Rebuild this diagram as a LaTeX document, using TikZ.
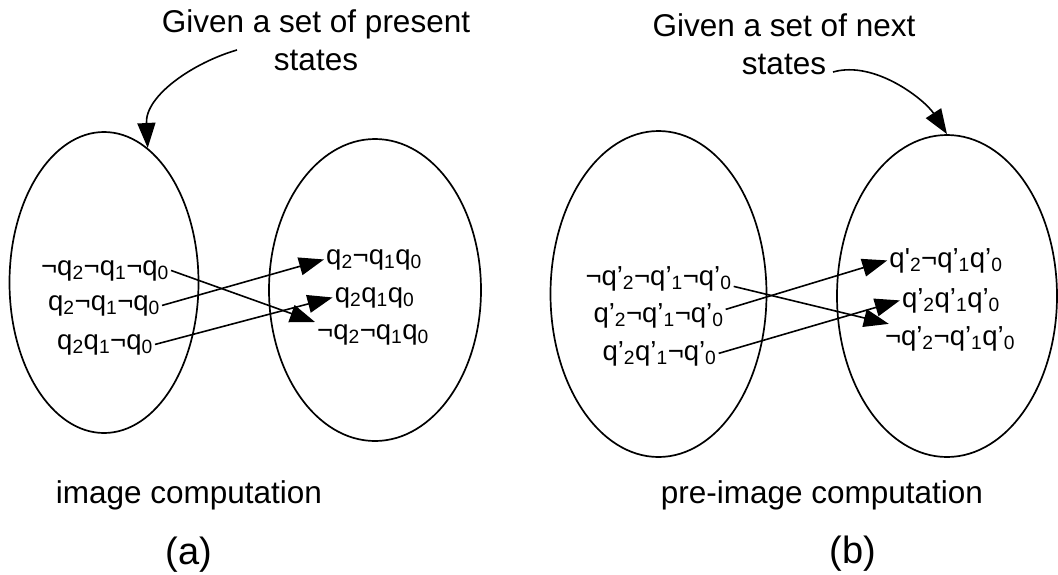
\documentclass[tikz,border=0pt]{standalone}
\usepackage{fontspec}
\setmainfont{Liberation Sans}
\usepackage{tikz}
\usetikzlibrary{positioning,calc}
\usetikzlibrary{arrows.meta,shapes.geometric}
\newcommand{\stq}[1]{q\textsubscript{#1}}
\newcommand{\prq}[1]{q’\textsubscript{#1}}
\tikzset{
  setell/.style={ellipse,draw=black,line width=1.7pt,inner sep=0pt},
  st/.style={font=\fontsize{27.5}{33}\selectfont,inner sep=2pt,anchor=base},
  note/.style={font=\fontsize{31.5}{38}\selectfont,align=center},
  tr/.style={draw=black,line width=1.6pt,-{Triangle[length=25pt,width=18pt]}},
}

\begin{document}
\begin{tikzpicture}[x=1pt,y=-1pt]
\useasboundingbox (0,0) rectangle (1058,574);
% (a) image computation
\node[setell,minimum width=189pt,minimum height=301pt] (la) at (104,282.5) {};
\node[setell,minimum width=212pt,minimum height=302pt] (ra) at (375,290) {};
\node[st] (s1) at (105,275) {¬\stq{2}¬\stq{1}¬\stq{0}};
\node[st] (s2) at (104,310) {\stq{2}¬\stq{1}¬\stq{0}};
\node[st] (s3) at (105,349) {\stq{2}\stq{1}¬\stq{0}};
\node[st] (t1) at (374,264) {\stq{2}¬\stq{1}\stq{0}};
\node[st] (t2) at (374.5,302) {\stq{2}\stq{1}\stq{0}};
\node[st] (t3) at (373,339) {¬\stq{2}¬\stq{1}\stq{0}};
\draw[tr] (s1.east) -- (t3.north west);
\draw[tr] (s2.east) -- (t1.west);
\draw[tr] (s3.east) -- (t2.west);
\node[note] (ta) at (316,40) {Given a set of present\\states};
\coordinate (ca) at (237,50);
\draw[tr] (ca) .. controls (195,62) and (145,95) .. (la.72);
\node[note,anchor=base] (ia) at (189,503) {image computation};
\node[note,anchor=base,font=\fontsize{38}{44}\selectfont] (pa) at (189,564) {(a)};
% (b) pre-image computation
\node[setell,minimum width=216pt,minimum height=326pt] (lb) at (658.5,294) {};
\node[setell,minimum width=220pt,minimum height=322pt] (rb) at (947,296) {};
\node[st] (u1) at (658.5,285) {¬\prq{2}¬\prq{1}¬\prq{0}};
\node[st] (u2) at (658.5,322) {\prq{2}¬\prq{1}¬\prq{0}};
\node[st] (u3) at (659.5,360) {\prq{2}\prq{1}¬\prq{0}};
\node[st] (v1) at (946,267) {q\textquotesingle\textsubscript{2}¬\prq{1}\prq{0}};
\node[st] (v2) at (951,307) {\prq{2}\prq{1}\prq{0}};
\node[st] (v3) at (950,345) {¬\prq{2}¬\prq{1}\prq{0}};
\draw[tr] ([yshift=-8pt]u1.east) -- ([xshift=6pt]v3.north west);
\draw[tr] ([yshift=6pt]u2.east) -- (v1.west);
\draw[tr] (u3.east) -- (v2.west);
\node[note] (tb) at (784,44) {Given a set of next\\states};
\coordinate (cb) at (833,72);
\draw[tr] (cb) .. controls (875,60) and (925,100) .. (rb.north);
\node[note,anchor=base] (ib) at (822,503) {pre-image computation};
\node[note,anchor=base,font=\fontsize{38}{44}\selectfont] (pb) at (853,563) {(b)};
\end{tikzpicture}
\end{document}
